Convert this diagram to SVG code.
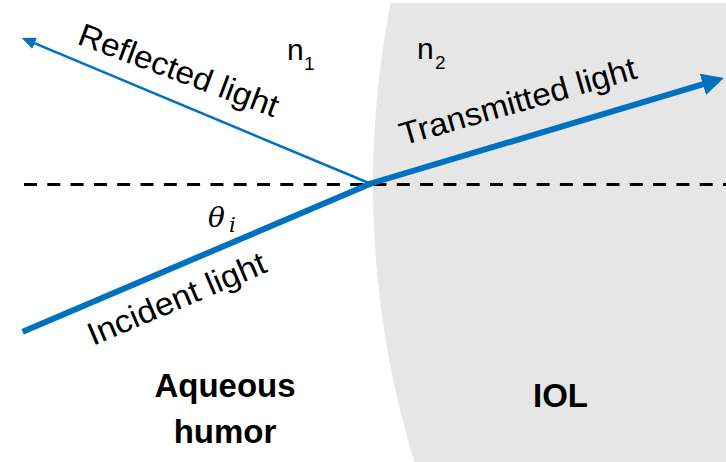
<svg xmlns="http://www.w3.org/2000/svg" width="726" height="462" viewBox="0 0 726 462">
  <style>
    .lbl { font-family: "Liberation Sans", Arial, sans-serif; fill: #000; }
    .ray { font-size: 32px; }
    .region { font-size: 33px; font-weight: bold; text-anchor: middle; }
    .n { font-size: 30px; }
    .sub { font-size: 19px; }
    .math { font-family: "DejaVu Serif", "Liberation Serif", serif; font-style: italic; fill: #000; }
    .beam { stroke: #0070C0; fill: none; stroke-linecap: butt; }
  </style>
  <defs>
    <marker id="headBig" viewBox="0 0 22 22" refX="4" refY="11" markerWidth="22" markerHeight="22" markerUnits="userSpaceOnUse" orient="auto">
      <path d="M0,0 L22,11 L0,22 Z" fill="#0070C0"/>
    </marker>
    <marker id="headSmall" viewBox="0 0 14 12" refX="3" refY="6" markerWidth="14" markerHeight="12" markerUnits="userSpaceOnUse" orient="auto">
      <path d="M0,0 L14,6 L0,12 Z" fill="#0070C0"/>
    </marker>
  </defs>

  <rect width="726" height="462" fill="#ffffff"/>

  <g id="iol-region">
    <path d="M390.6,3 A950,950 0 0 0 414.3,462 L726,462 L726,3 Z" fill="#e6e6e6"/>
  </g>

  <g id="interface">
    <line x1="24" y1="184.5" x2="726" y2="184.5" stroke="#000" stroke-width="3" stroke-dasharray="13 10.3"/>
  </g>

  <g id="connectors">
    <line id="incident" class="beam" x1="22.7" y1="331.7" x2="371" y2="183.5" stroke-width="6"/>
    <line id="transmitted" class="beam" x1="369" y1="184" x2="706.7" y2="83.2" stroke-width="6" marker-end="url(#headBig)"/>
    <line id="reflected" class="beam" x1="370" y1="183.5" x2="31.9" y2="42.2" stroke-width="2.5" marker-end="url(#headSmall)"/>
  </g>

  <g id="label-reflected">
    <text class="lbl ray" transform="translate(76,43.5) rotate(20.5)" textLength="211" lengthAdjust="spacingAndGlyphs">Reflected light</text>
  </g>
  <g id="label-transmitted">
    <text class="lbl ray" transform="translate(403,145.5) rotate(-16)" textLength="245" lengthAdjust="spacingAndGlyphs">Transmitted light</text>
  </g>
  <g id="label-incident">
    <text class="lbl ray" transform="translate(93,346) rotate(-23)" textLength="191" lengthAdjust="spacingAndGlyphs">Incident light</text>
  </g>

  <g id="label-theta">
    <text class="math" x="208" y="227" font-size="28">θ</text>
    <text class="math" x="229" y="232" font-size="21">i</text>
  </g>

  <g id="label-n1">
    <text class="lbl n" x="287" y="59.5">n</text>
    <text class="lbl sub" x="304" y="69.5">1</text>
  </g>
  <g id="label-n2">
    <text class="lbl n" x="417" y="58.5">n</text>
    <text class="lbl sub" x="435" y="68.5">2</text>
  </g>

  <g id="label-aqueous">
    <text class="lbl region" x="225" y="396.5">Aqueous</text>
    <text class="lbl region" x="225" y="442.5">humor</text>
  </g>
  <g id="label-iol">
    <text class="lbl region" x="560.5" y="406.5">IOL</text>
  </g>
</svg>
